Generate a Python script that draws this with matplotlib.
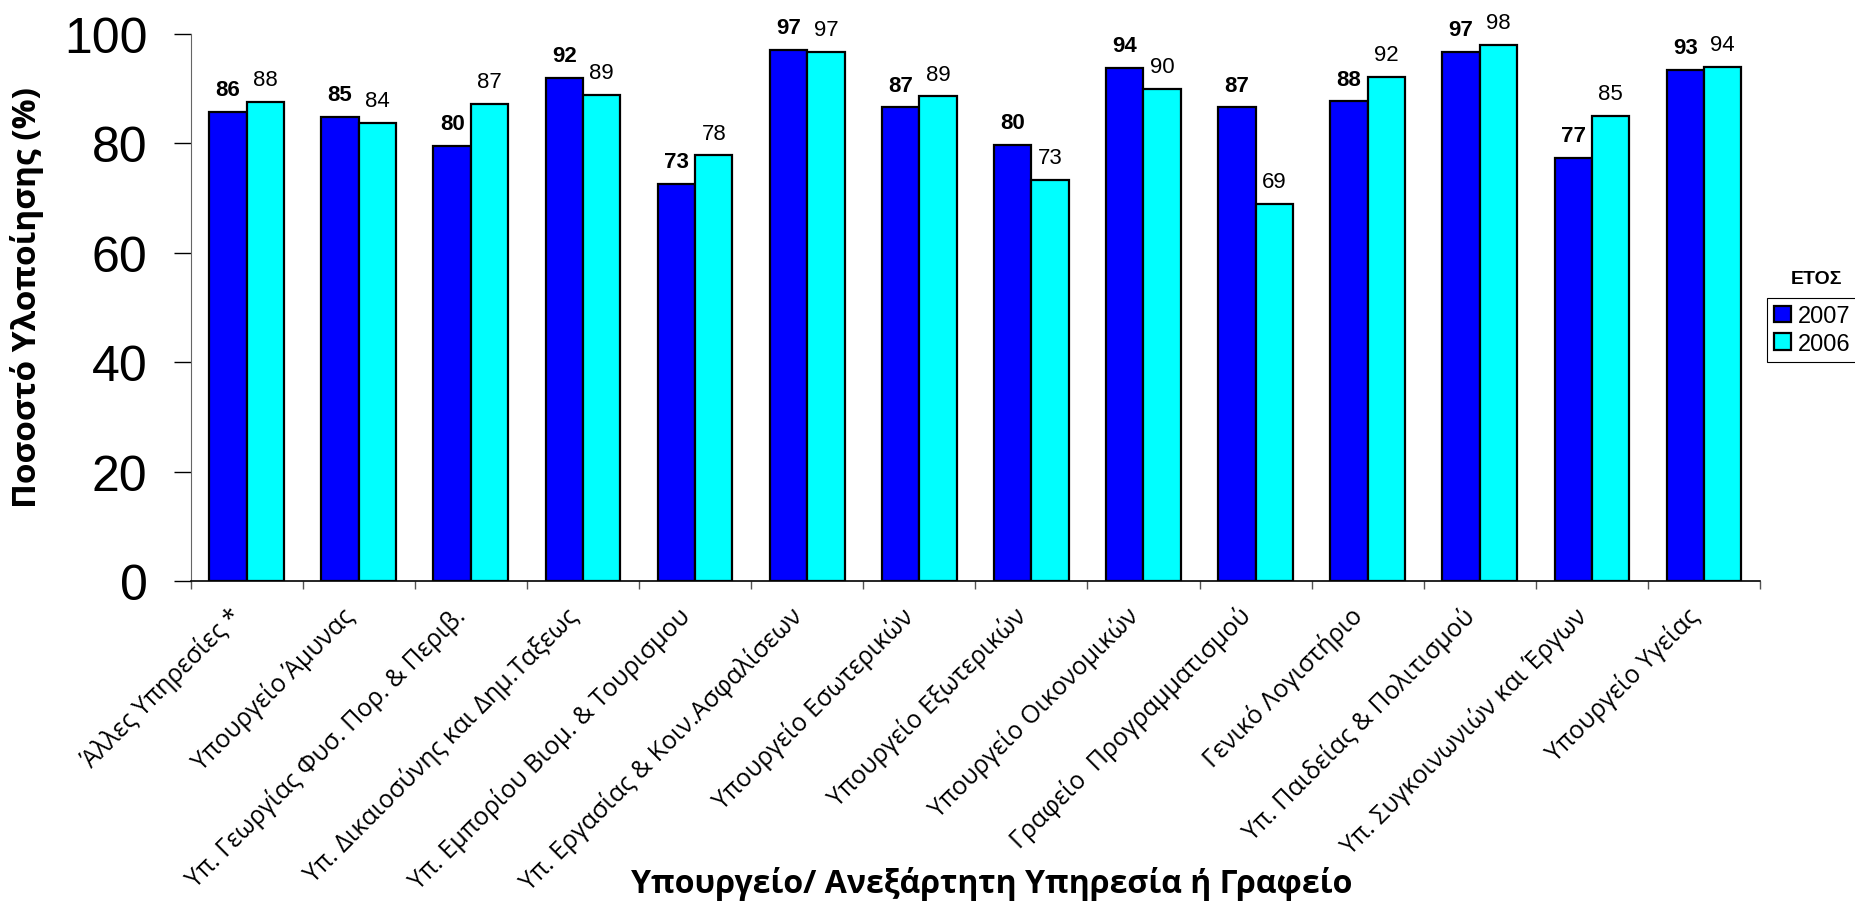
import matplotlib
matplotlib.use("Agg")
import matplotlib.pyplot as plt
import numpy as np

# data
categories = [
    "Άλλες Υπηρεσίες *",
    "Υπουργείο Άμυνας",
    "Υπ. Γεωργίας Φυσ. Πορ. & Περιβ.",
    "Υπ. Δικαιοσύνης και Δημ.Ταξεως",
    "Υπ. Εμπορίου Βιομ. & Τουρισμου",
    "Υπ. Εργασίας & Κοιν.Ασφαλίσεων",
    "Υπουργείο Εσωτερικών",
    "Υπουργείο Εξωτερικών",
    "Υπουργείο Οικονομικών",
    "Γραφείο  Προγραμματισμού",
    "Γενικό Λογιστήριο",
    "Υπ. Παιδείας & Πολιτισμού",
    "Υπ. Συγκοινωνιών και Έργων",
    "Υπουργείο Υγείας",
]
values_2007 = [85.8, 84.9, 79.6, 92.0, 72.6, 97.1, 86.6, 79.8, 93.8, 86.6, 87.7, 96.8, 77.4, 93.4]
values_2006 = [87.6, 83.8, 87.2, 88.9, 77.8, 96.7, 88.6, 73.4, 90.0, 69.0, 92.2, 98.0, 85.0, 94.0]
series_names = ["2007", "2006"]
legend_title = "ΕΤΟΣ"

num_font = "Liberation Sans"
txt_font = "Open Sans"

fig = plt.figure(figsize=(18.56, 9.03), dpi=100)
ax = fig.add_axes([0.1027, 0.3555, 0.8456, 0.6057])

x = np.arange(len(categories))
w = 1 / 3
b1 = ax.bar(x - w / 2, values_2007, w, color="#0000FF", edgecolor="black", linewidth=1.6, label=series_names[0])
b2 = ax.bar(x + w / 2, values_2006, w, color="#00FFFF", edgecolor="black", linewidth=1.6, label=series_names[1])

for bars, weight in ((b1, "bold"), (b2, "normal")):
    for r in bars:
        h = r.get_height()
        ax.annotate(f"{h:.0f}", (r.get_x() + r.get_width() / 2, h), xytext=(0, 12),
                    textcoords="offset points", ha="center", va="baseline",
                    fontsize=16, fontweight=weight, family=num_font)

ax.set_xlim(-0.5, len(categories) - 0.5)
ax.set_ylim(0, 100)
ax.set_yticks([0, 20, 40, 60, 80, 100])
ax.tick_params(axis="y", direction="out", length=12, width=1, pad=19, labelsize=36)
for t in ax.get_yticklabels():
    t.set_family(num_font)

# ticks between categories; category names drawn below their centres
ax.set_xticks(np.arange(len(categories) + 1) - 0.5)
ax.set_xticklabels([])
ax.tick_params(axis="x", direction="out", length=6, width=1, color="#555555")
for i, name in enumerate(categories):
    ax.annotate(name, (x[i], 0), xycoords=("data", "axes fraction"), xytext=(-6.5, -22),
                textcoords="offset points", rotation=45, rotation_mode="anchor",
                ha="right", va="center", fontsize=18, family=txt_font, annotation_clip=False)

ax.spines["top"].set_visible(False)
ax.spines["right"].set_visible(False)
ax.spines["left"].set_color("#666666")
ax.spines["bottom"].set_color("black")
ax.spines["bottom"].set_linewidth(1.2)

fig.text(27 / 1856, 1 - 298 / 903, "Ποσοστό Υλοποίησης (%)", rotation=90, ha="center", va="center",
         fontsize=24, fontweight="bold", family=txt_font)
fig.text(992 / 1856, 10 / 903, "Υπουργείο/ Ανεξάρτητη Υπηρεσία ή Γραφείο", ha="center", va="baseline",
         fontsize=23, fontweight="bold", family=txt_font)

fig.text(1817 / 1856, 1 - 280 / 903, legend_title, ha="center", va="center",
         fontsize=14, fontweight="bold", family=num_font)
leg = ax.legend(loc="upper left", bbox_to_anchor=(1767 / 1856, 1 - 299 / 903),
                bbox_transform=fig.transFigure, borderaxespad=0, fancybox=False,
                edgecolor="black", framealpha=1, prop={"family": num_font, "size": 17},
                handlelength=0.7, handleheight=0.7, handletextpad=0.3, labelspacing=0.25,
                borderpad=0.3)
leg.get_frame().set_linewidth(0.8)

fig.savefig("out.png", dpi=100)
